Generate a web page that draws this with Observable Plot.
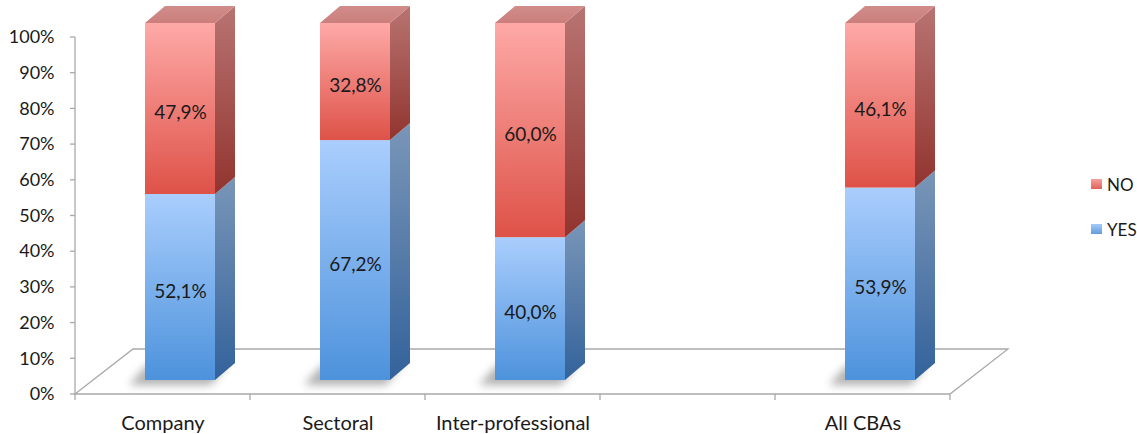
<!DOCTYPE html>
<html>
<head>
<meta charset="utf-8">
<script src="https://cdn.jsdelivr.net/npm/d3@7"></script>
<script src="https://cdn.jsdelivr.net/npm/@observablehq/plot@0.6"></script>
<style>
  html, body { margin: 0; padding: 0; background: #ffffff; }
  #wrap { position: relative; width: 1137px; height: 434px; font-family: Lato, "Open Sans", sans-serif; }
  #legend { position: absolute; left: 1091px; top: 174px; font-size: 17px; color: #1a1a1a; }
  #legend .item { display: flex; align-items: center; height: 20px; margin-bottom: 25px; }
  #legend .sw { width: 11px; height: 10px; margin-right: 5px; }
</style>
</head>
<body>
<div id="wrap"><div id="chart"></div><div id="legend"></div></div>
<script>
// ---- data ----
const categories = ["Company", "Sectoral", "Inter-professional", "", "All CBAs"];
const groups = ["Company", "Sectoral", "Inter-professional", "All CBAs"];
const yesValues = [52.1, 67.2, 40.0, 53.9];
const noValues = [47.9, 32.8, 60.0, 46.1];
const seriesNames = ["NO", "YES"];
const yTicks = [0, 10, 20, 30, 40, 50, 60, 70, 80, 90, 100];

// ---- styling / geometry (pixels) ----
const W = 1137, H = 434;
const M = {left: 75, right: 187, top: 37, bottom: 40};
const BAR_W = 70;
const FRONT = {dx: 17.5, dy: -14};
const DEPTH = {dx: 20, dy: -17};
const FLOOR = {dx: 58, dy: -45};
const AXIS_COLOR = "#a9a9a9";
const bandW = (W - M.left - M.right) / categories.length;
const inset = (bandW - BAR_W) / 2;

const rows = groups.flatMap((g, i) => [
  {cat: g, series: "YES", y1: 0, y2: yesValues[i], v: yesValues[i]},
  {cat: g, series: "NO", y1: yesValues[i], y2: yesValues[i] + noValues[i], v: noValues[i]}
]);
const fmt = v => v.toFixed(1).replace(".", ",") + "%";

function grad(defs, id, c0, c1, horizontal) {
  const lg = defs.append("linearGradient").attr("id", id)
    .attr("x1", 0).attr("y1", 0).attr("x2", horizontal ? 1 : 0).attr("y2", horizontal ? 0 : 1);
  lg.append("stop").attr("offset", "0%").attr("stop-color", c0);
  lg.append("stop").attr("offset", "100%").attr("stop-color", c1);
}

function scene(index, scales, values, dims) {
  const x = scales.x, y = scales.y;
  const bw = x.bandwidth();
  const x0 = dims.marginLeft, x1 = dims.width - dims.marginRight;
  const y0 = y(0);
  const g = d3.create("svg:g");
  const defs = g.append("defs");
  grad(defs, "gYes", "#aacefd", "#4d92dc");
  grad(defs, "gNo", "#fea9a7", "#de5248");
  grad(defs, "gYesSide", "#7a96b8", "#33629b");
  grad(defs, "gNoSide", "#b87472", "#92342f");
  grad(defs, "gNoTop", "#d08c8a", "#cb7f7c");
  const f = defs.append("filter").attr("id", "shadowBlur")
    .attr("x", "-50%").attr("y", "-50%").attr("width", "200%").attr("height", "200%");
  f.append("feGaussianBlur").attr("stdDeviation", 4);

  // y axis line and ticks
  g.append("line").attr("x1", x0).attr("x2", x0).attr("y1", y(100)).attr("y2", y0)
    .attr("stroke", AXIS_COLOR).attr("stroke-width", 1.3);
  for (const t of yTicks) {
    g.append("line").attr("x1", x0 - 5).attr("x2", x0).attr("y1", y(t)).attr("y2", y(t))
      .attr("stroke", AXIS_COLOR).attr("stroke-width", 1.3);
  }
  // floor
  g.append("path")
    .attr("d", `M${x0},${y0}L${x0 + FLOOR.dx},${y0 + FLOOR.dy}L${x1 + FLOOR.dx},${y0 + FLOOR.dy}L${x1},${y0}Z`)
    .attr("fill", "#ffffff").attr("stroke", AXIS_COLOR).attr("stroke-width", 1.3);
  // x ticks at band boundaries
  const bounds = categories.map(c => x(c)).concat([x(categories[categories.length - 1]) + bw]);
  for (const b of bounds) {
    g.append("line").attr("x1", b).attr("x2", b).attr("y1", y0).attr("y2", y0 + 6)
      .attr("stroke", AXIS_COLOR).attr("stroke-width", 1.3);
  }
  // shadows
  for (const c of groups) {
    const cx = x(c) + bw / 2 + FRONT.dx;
    const xl = cx - BAR_W / 2, xr = cx + BAR_W / 2;
    const yb = y0 + FRONT.dy;
    g.append("path")
      .attr("d", `M${xl - 16},${yb + 5}L${xr - 4},${yb + 5}L${xr + DEPTH.dx - 8},${yb + DEPTH.dy + 2}L${xl + DEPTH.dx - 18},${yb + DEPTH.dy + 2}Z`)
      .attr("fill", "#7d7d7d").attr("opacity", 0.6).attr("filter", "url(#shadowBlur)");
  }
  // side and top faces
  for (const r of rows) {
    const cx = x(r.cat) + bw / 2 + FRONT.dx;
    const xl = cx - BAR_W / 2, xr = cx + BAR_W / 2;
    const yb = y(r.y1) + FRONT.dy, yt = y(r.y2) + FRONT.dy;
    g.append("path")
      .attr("d", `M${xr},${yb}L${xr + DEPTH.dx},${yb + DEPTH.dy}L${xr + DEPTH.dx},${yt + DEPTH.dy}L${xr},${yt}Z`)
      .attr("fill", r.series === "YES" ? "url(#gYesSide)" : "url(#gNoSide)");
    if (r.series === "NO") {
      g.append("path")
        .attr("d", `M${xl},${yt}L${xl + DEPTH.dx},${yt + DEPTH.dy}L${xr + DEPTH.dx},${yt + DEPTH.dy}L${xr},${yt}Z`)
        .attr("fill", "url(#gNoTop)");
    }
  }
  return g.node();
}

const chart = Plot.plot({
  width: W,
  height: H,
  marginLeft: M.left,
  marginRight: M.right,
  marginTop: M.top,
  marginBottom: M.bottom,
  style: {fontFamily: "Lato, 'Open Sans', sans-serif", fontSize: "18px", color: "#1a1a1a", background: "transparent", overflow: "visible"},
  x: {domain: categories, padding: 0, tickSize: 0, tickPadding: 21, label: null},
  y: {domain: [0, 100], ticks: yTicks, tickFormat: d => d + "%", tickSize: 0, tickPadding: 21, label: null},
  marks: [
    scene,
    Plot.barY(rows.filter(r => r.series === "YES"), {x: "cat", y1: "y1", y2: "y2", fill: "url(#gYes)", insetLeft: inset, insetRight: inset, dx: FRONT.dx, dy: FRONT.dy}),
    Plot.barY(rows.filter(r => r.series === "NO"), {x: "cat", y1: "y1", y2: "y2", fill: "url(#gNo)", insetLeft: inset, insetRight: inset, dx: FRONT.dx, dy: FRONT.dy}),
    Plot.text(rows, {x: "cat", y: r => (r.y1 + r.y2) / 2, text: r => fmt(r.v), dx: FRONT.dx, dy: FRONT.dy + 4, fill: "#1a1a1a", fontSize: 19})
  ]
});
document.getElementById("chart").appendChild(chart);
// x category labels slightly larger (Calibri-like width)
d3.select(chart).selectAll("[aria-label='x-axis tick label'] text, g[aria-label='x-axis'] text").style("font-size", "20px");

// legend
const legendColors = {NO: "linear-gradient(#f7a09c, #e0625a)", YES: "linear-gradient(#a6cbf9, #609ce0)"};
const legend = d3.select("#legend");
for (const s of seriesNames) {
  const it = legend.append("div").attr("class", "item");
  it.append("div").attr("class", "sw").style("background", legendColors[s]);
  it.append("span").text(s);
}
</script>
</body>
</html>
